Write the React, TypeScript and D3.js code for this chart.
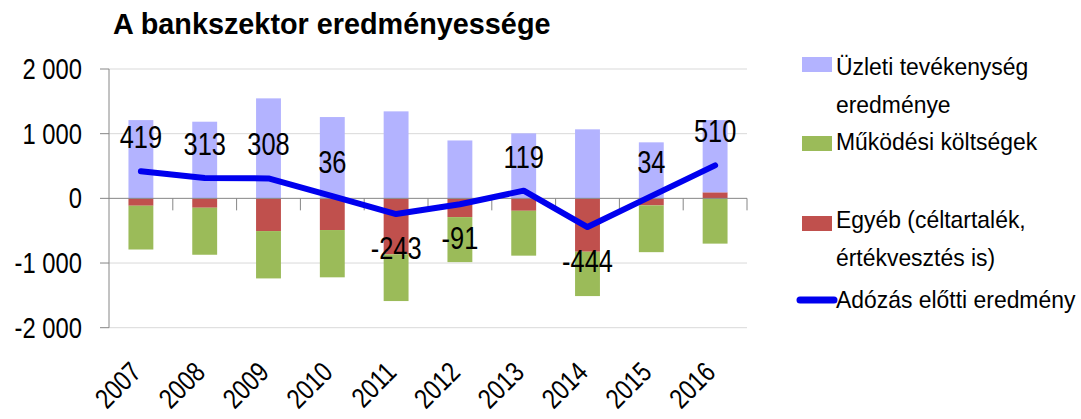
import React from "react";
import * as d3 from "d3";

const years = ["2007", "2008", "2009", "2010", "2011", "2012", "2013", "2014", "2015", "2016"];
const uzleti = [1210, 1185, 1546, 1257, 1345, 895, 1005, 1067, 866, 1117];
const mukodesi = [-677, -727, -732, -731, -722, -696, -694, -686, -723, -700];
const egyeb = [-114, -145, -506, -490, -866, -290, -192, -825, -109, 93];
const adozas = [419, 313, 308, 36, -243, -91, 119, -444, 34, 510];
const yTicks = [-2000, -1000, 0, 1000, 2000];
const yTickLabels = ["-2 000", "-1 000", "0", "1 000", "2 000"];

const title = "A bankszektor eredményessége";
const legendItems = [
  { key: "uzleti", lines: ["Üzleti tevékenység", "eredménye"] },
  { key: "mukodesi", lines: ["Működési költségek"] },
  { key: "egyeb", lines: ["Egyéb (céltartalék,", "értékvesztés is)"] },
  { key: "adozas", lines: ["Adózás előtti eredmény"] },
];

const COLORS: Record<string, string> = {
  uzleti: "#B3B3FF",
  mukodesi: "#9BBB59",
  egyeb: "#C0504D",
  adozas: "#0000EE",
};

const FONT = "'Liberation Sans', Arial, sans-serif";
const NARROW = 0.82;

function T(props: {
  x: number;
  y: number;
  size: number;
  anchor?: string;
  rotate?: number;
  sx?: number;
  sy?: number;
  children: React.ReactNode;
}) {
  const { x, y, size, anchor = "start", rotate = 0, sx = NARROW, sy = 1, children } = props;
  return (
    <g transform={`translate(${x},${y}) rotate(${rotate}) scale(${sx},${sy})`}>
      <text x={0} y={0} textAnchor={anchor} fontFamily={FONT} fontSize={size} fill="#000">
        {children}
      </text>
    </g>
  );
}

export default function App() {
  const W = 1081, H = 419;
  const left = 109, right = 747, top = 69, bottom = 327.7;

  const x = d3.scaleBand<string>().domain(years).range([left, right]).paddingInner(0.61).paddingOuter(0.305);
  const step = x.step();
  const y = d3.scaleLinear().domain([-2000, 2000]).range([bottom, top]);

  const table = years.map((yr, i) => ({ year: yr, egyeb: egyeb[i], uzleti: uzleti[i], mukodesi: mukodesi[i] }));
  const stack = d3.stack<any>().keys(["egyeb", "uzleti", "mukodesi"]).offset(d3.stackOffsetDiverging);
  const series = stack(table);

  const cx = (yr: string) => (x(yr) as number) + x.bandwidth() / 2;
  const line = d3.line<number>().x((_, i) => cx(years[i])).y((d) => y(d));

  const y0 = y(0);

  const legendX = 802, textX = 836;
  const legendBaselines = [[75, 113], [150], [228, 266], [308]];
  const swatchY = [57, 136, 216];

  return (
    <svg width={W} height={H} style={{ position: "absolute", left: 0, top: 0, background: "#fff" }}>
      <rect x={0} y={0} width={W} height={H} fill="#fff" />
      <text x={113} y={33.5} fontFamily="'Liberation Sans', Arial, sans-serif" fontWeight="bold" fontSize={28.8} fill="#000">
        {title}
      </text>

      {yTicks.filter((t) => t !== 0).map((t) => (
        <line key={t} x1={left} x2={right} y1={y(t)} y2={y(t)} stroke="#D9D9D9" strokeWidth={1} />
      ))}

      {series.map((s) =>
        s.map((d: any, i: number) => {
          const y1 = y(Math.max(d[0], d[1]));
          const y2 = y(Math.min(d[0], d[1]));
          if (Math.abs(y2 - y1) < 0.01) return null;
          return (
            <rect key={s.key + i} x={x(years[i])} y={y1} width={x.bandwidth()} height={y2 - y1} fill={COLORS[s.key]} />
          );
        })
      )}

      <line x1={left} x2={left} y1={top} y2={bottom} stroke="#868686" strokeWidth={1} />
      {yTicks.map((t, i) => (
        <g key={t}>
          <line x1={left - 9} x2={left} y1={y(t)} y2={y(t)} stroke="#868686" strokeWidth={1} />
          <T x={82} y={y(t) + 10} size={29} anchor="end">
            {yTickLabels[i]}
          </T>
        </g>
      ))}

      <line x1={left} x2={right} y1={y0} y2={y0} stroke="#868686" strokeWidth={1} />
      {years.map((yr, i) => (
        <line key={yr} x1={left + (i + 1) * step} x2={left + (i + 1) * step} y1={y0} y2={y0 + 12} stroke="#868686" strokeWidth={1} />
      ))}

      <path d={line(adozas) || ""} fill="none" stroke={COLORS.adozas} strokeWidth={6} strokeLinejoin="round" strokeLinecap="round" />

      {adozas.map((v, i) => (
        <T key={i} x={cx(years[i])} y={v >= 0 ? y(v) - 23 : y(v) + 45} size={31} anchor="middle">
          {v}
        </T>
      ))}

      {years.map((yr) => (
        <T key={yr} x={cx(yr) + 2} y={374} size={28} anchor="end" rotate={-45}>
          {yr}
        </T>
      ))}

      {legendItems.map((item, k) => (
        <g key={item.key}>
          {item.key === "adozas" ? (
            <line x1={legendX - 2} x2={legendX + 32} y1={300} y2={300} stroke={COLORS.adozas} strokeWidth={7} strokeLinecap="round" />
          ) : (
            <rect x={legendX} y={swatchY[k]} width={30} height={15} fill={COLORS[item.key]} />
          )}
          {item.lines.map((ln, j) => (
            <T key={j} x={textX} y={legendBaselines[k][j]} size={24} sx={0.955}>
              {ln}
            </T>
          ))}
        </g>
      ))}
    </svg>
  );
}
